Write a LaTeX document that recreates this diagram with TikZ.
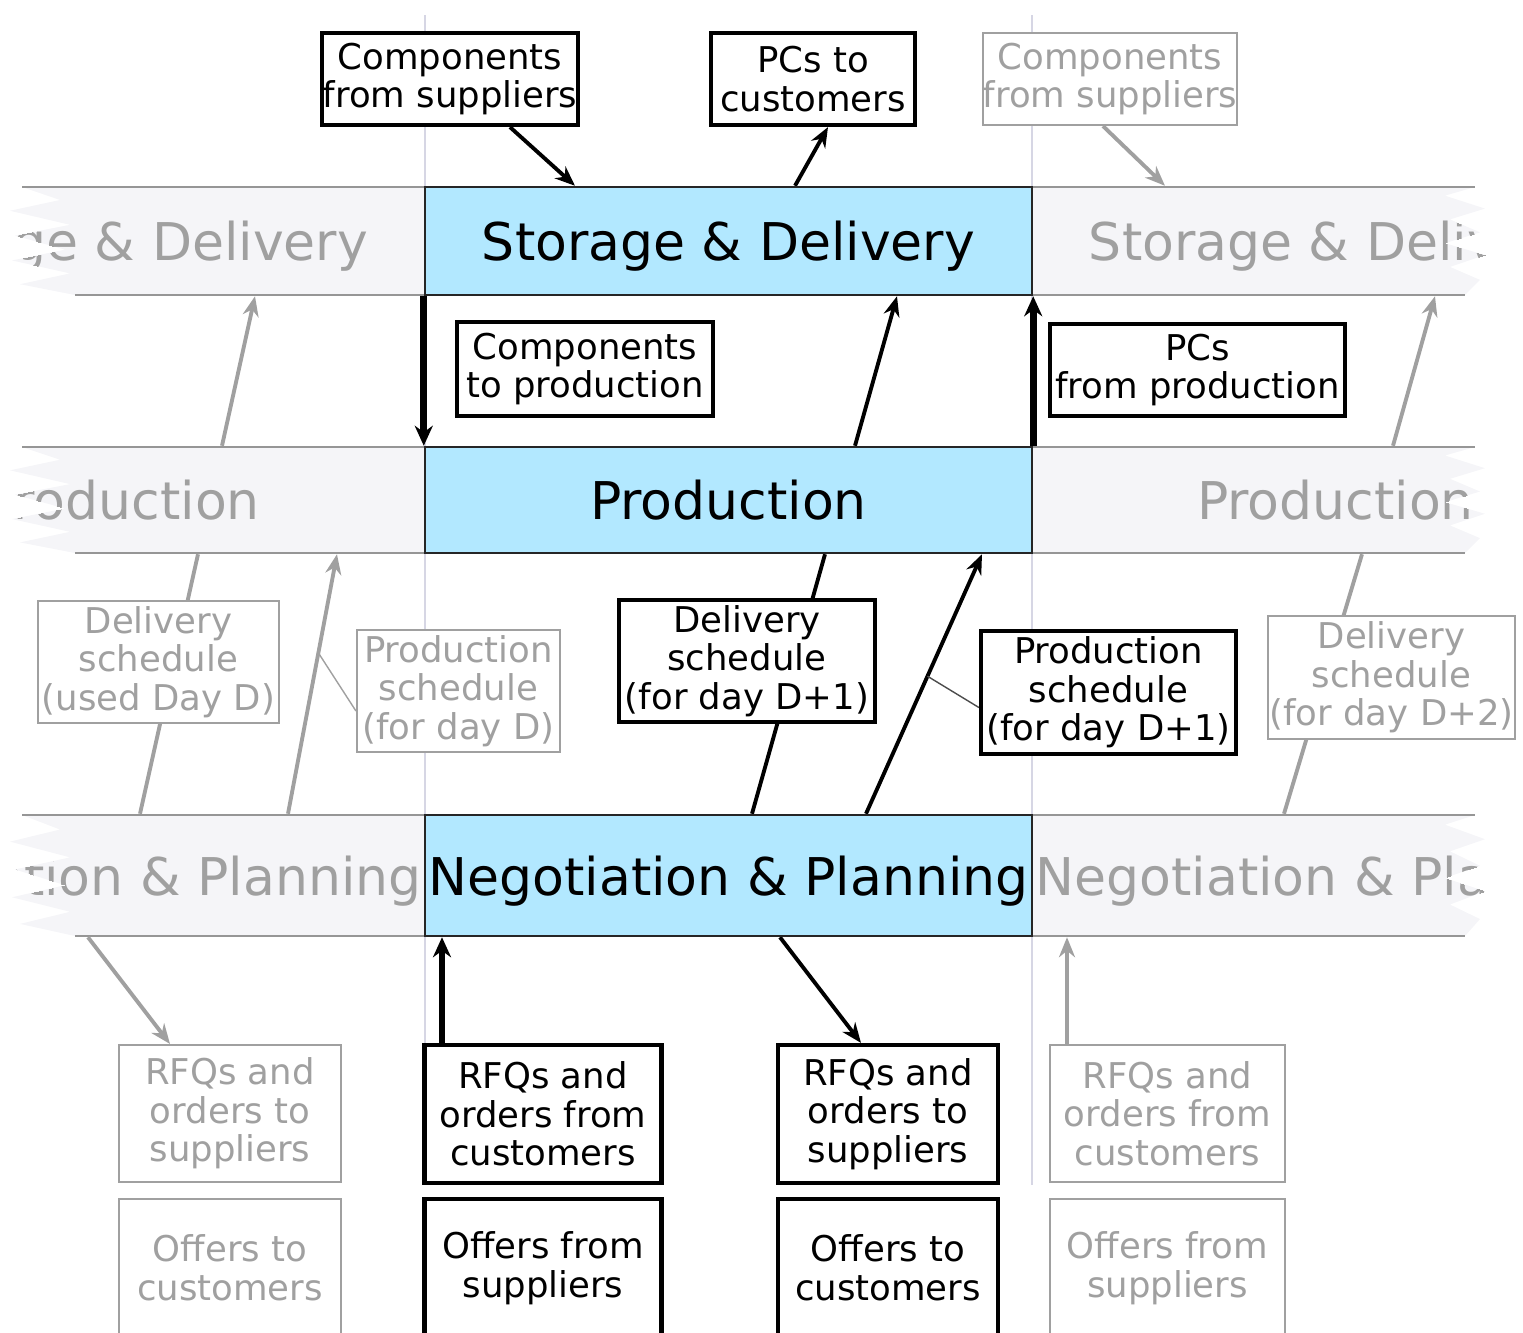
\documentclass[tikz,border=0pt]{standalone}
\usepackage{fontspec}
\setmainfont{DejaVu Sans}
\usetikzlibrary{arrows.meta}

\definecolor{ghost}{RGB}{160,160,160}
\definecolor{bandfill}{RGB}{245,245,248}
\definecolor{bandline}{RGB}{150,150,150}
\definecolor{stagefill}{RGB}{178,232,255}
\definecolor{guide}{RGB}{214,214,228}

\pgfdeclarelayer{back}
\pgfsetlayers{back,main}

\tikzset{
    stage/.style={draw=black!85, line width=0.7pt, fill=stagefill, inner sep=0pt, text depth=0pt,
        minimum width=6.07cm, font=\fontsize{14.8}{17}\selectfont},
    ghostlabel/.style={text=ghost, inner sep=0pt, text depth=0pt, font=\fontsize{14.8}{17}\selectfont},
    flowbox/.style={draw, line width=1.2pt, fill=white, inner sep=0pt, align=center,
        font=\fontsize{10.1}{11}\selectfont},
    ghostbox/.style={flowbox, draw=ghost, text=ghost, line width=0.6pt},
    flow/.style={line width=1.1pt, -{Stealth[length=2mm,width=1.6mm]}},
    bigflow/.style={line width=1.9pt, -{Stealth[length=2mm,width=1.8mm]}},
    link/.style={line width=1.1pt},
    callout/.style={line width=0.4pt, draw=black!70},
    ghostflow/.style={flow, draw=ghost},
    ghostlink/.style={link, draw=ghost},
    ghostcallout/.style={callout, draw=ghost},
}

\begin{document}
\begin{tikzpicture}
    \useasboundingbox (0,0) rectangle (15.23,-13.33);

    % Dias y bandas rasgadas
    \begin{pgfonlayer}{back}
        \draw[guide, line width=0.5pt] (4.25,-0.15) -- (4.25,-11.85);
        \draw[guide, line width=0.5pt] (10.32,-0.15) -- (10.32,-11.85);
        \foreach \top/\hgt/\lbl in {1.87/1.08/{Storage \& Delivery}, 4.47/1.06/{Production}, 8.15/1.21/{Negotiation \& Planning}} {
            \begin{scope}[shift={(0,-\top)}, yscale=\hgt]
                \begin{scope}
                    \clip (0.22,0) -- (14.75,0) -- (14.45,-0.08) -- (14.85,-0.2) -- (14.5,-0.3)
                        -- (14.8,-0.42) -- (14.45,-0.52) -- (14.85,-0.63) -- (14.5,-0.74)
                        -- (14.8,-0.86) -- (14.65,-1) -- (0.75,-1) -- (0.2,-0.9) -- (0.7,-0.8)
                        -- (0.12,-0.68) -- (0.65,-0.58) -- (0.15,-0.45) -- (0.7,-0.35)
                        -- (0.1,-0.22) -- (0.6,-0.12) -- cycle;
                    \fill[bandfill] (0,0) rectangle (15.23,-1);
                    \node[ghostlabel] at (1.215,-0.5) {\lbl};
                    \node[ghostlabel] at (13.355,-0.5) {\lbl};
                \end{scope}
                \draw[bandline, line width=0.7pt] (0.22,0) -- (14.75,0) (0.75,-1) -- (14.65,-1);
            \end{scope}
        }
    \end{pgfonlayer}

    % Etapas
    \node[stage, minimum height=1.08cm] (sd) at (7.285,-2.41) {Storage \& Delivery};
    \node[stage, minimum height=1.06cm] (pr) at (7.285,-5.00) {Production};
    \node[stage, minimum height=1.21cm] (np) at (7.285,-8.755) {Negotiation \& Planning};

    % Cajas de arriba
    \node[flowbox, minimum width=2.56cm, minimum height=0.92cm] (cfs) at (4.50,-0.79) {Components\\from suppliers};
    \node[flowbox, minimum width=2.04cm, minimum height=0.92cm] (pcc) at (8.13,-0.79) {PCs to\\customers};
    \node[ghostbox, minimum width=2.54cm, minimum height=0.92cm] (cfs2) at (11.10,-0.79) {Components\\from suppliers};
    \node[flowbox, minimum width=2.56cm, minimum height=0.94cm] (ctp) at (5.85,-3.69) {Components\\to production};
    \node[flowbox, line width=1pt, minimum width=2.95cm, minimum height=0.92cm] (pfp) at (11.975,-3.70) {PCs\\from production};

    % Planes
    \node[ghostbox, minimum width=2.41cm, minimum height=1.22cm] (dsd) at (1.585,-6.62) {Delivery\\schedule\\(used Day D)};
    \node[ghostbox, minimum width=2.03cm, minimum height=1.22cm] (psd) at (4.585,-6.91) {Production\\schedule\\(for day D)};
    \node[flowbox, minimum width=2.56cm, minimum height=1.22cm] (ds1) at (7.47,-6.61) {Delivery\\schedule\\(for day D+1)};
    \node[flowbox, minimum width=2.55cm, minimum height=1.23cm] (ps1) at (11.085,-6.925) {Production\\schedule\\(for day D+1)};
    \node[ghostbox, minimum width=2.47cm, minimum height=1.23cm] (ds2) at (13.915,-6.775) {Delivery\\schedule\\(for day D+2)};

    % Cajas de abajo
    \node[ghostbox, minimum width=2.22cm, minimum height=1.37cm] (rts) at (2.30,-11.135) {RFQs and\\orders to\\suppliers};
    \node[flowbox, minimum width=2.37cm, minimum height=1.38cm] (rfc) at (5.43,-11.14) {RFQs and\\orders from\\customers};
    \node[flowbox, minimum width=2.20cm, minimum height=1.38cm] (rts1) at (8.88,-11.14) {RFQs and\\orders to\\suppliers};
    \node[ghostbox, minimum width=2.35cm, minimum height=1.37cm] (rfc2) at (11.675,-11.135) {RFQs and\\orders from\\customers};
    \node[ghostbox, minimum width=2.22cm, minimum height=1.38cm] (otc) at (2.30,-12.68) {Offers to\\customers};
    \node[flowbox, minimum width=2.37cm, minimum height=1.38cm] (ofs) at (5.43,-12.68) {Offers from\\suppliers};
    \node[flowbox, minimum width=2.20cm, minimum height=1.38cm] (otc1) at (8.88,-12.68) {Offers to\\customers};
    \node[ghostbox, minimum width=2.35cm, minimum height=1.38cm] (ofs2) at (11.675,-12.68) {Offers from\\suppliers};

    % Flechas
    \begin{pgfonlayer}{back}
        \draw[flow] ([xshift=6mm]cfs.south) -- ([xshift=-15.35mm]sd.north);
        \draw[flow] ([xshift=6.65mm]sd.north) -- ([xshift=1.5mm]pcc.south);
        \draw[bigflow] (sd.south west) -- (pr.north west);
        \draw[flow] ([xshift=12.65mm]pr.north) -- ([xshift=16.85mm]sd.south);
        \draw[bigflow] (pr.north east) -- (sd.south east);
        \draw[link] ([xshift=2.35mm]np.north) -- ([xshift=9.65mm]pr.south);
        \draw[flow] ([xshift=13.75mm]np.north) -- coordinate[pos=0.53] (psTick) ([xshift=25.35mm]pr.south);
        \draw[callout] (psTick) -- ([yshift=-1.5mm]ps1.west);
        \draw[flow] ([xshift=5.15mm]np.south) -- ([xshift=-2.7mm]rts1.north);
        \draw[bigflow] ([xshift=-10.1mm]rfc.north) -- ([xshift=-10.1mm]rfc.north |- np.south);

        % Flechas grises (dias D y D+2)
        \draw[ghostflow] ([xshift=-0.7mm]cfs2.south) -- ([xshift=43.65mm]sd.north);
        \draw[ghostflow] ([xshift=-50.65mm]pr.north) -- ([xshift=-47.35mm]sd.south);
        \draw[ghostflow] ([xshift=66.45mm]pr.north) -- ([xshift=70.65mm]sd.south);
        \draw[ghostlink] ([xshift=-58.85mm]np.north) -- ([xshift=-53.05mm]pr.south);
        \draw[ghostflow] ([xshift=-44.05mm]np.north) -- coordinate[pos=0.62] (psdTick) ([xshift=-39.15mm]pr.south);
        \draw[ghostcallout] (psdTick) -- ([yshift=-2mm]psd.west);
        \draw[ghostlink] ([xshift=55.55mm]np.north) -- ([xshift=63.35mm]pr.south);
        \draw[ghostflow] ([xshift=-64.05mm]np.south) -- ([xshift=-6mm]rts.north);
        \draw[ghostflow] ([xshift=-10.05mm]rfc2.north) -- ([xshift=-10.05mm]rfc2.north |- np.south);
    \end{pgfonlayer}
\end{tikzpicture}
\end{document}
